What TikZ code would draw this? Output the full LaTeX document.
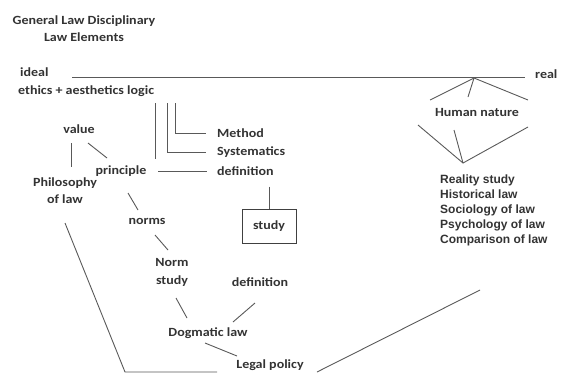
\documentclass[tikz,border=0pt]{standalone}
\usepackage{fontspec}
\setmainfont{Carlito}[FakeStretch=1.12]
\newfontfamily\listfont{Liberation Sans}
\usetikzlibrary{positioning}

\tikzset{
  lbl/.style={inner sep=1pt, text=black!80, font=\fontsize{12.5}{13}\selectfont\bfseries, align=center},
  rlbl/.style={inner sep=1pt, text=black!80, font=\listfont\fontsize{12}{15}\selectfont\bfseries, align=left},
  ln/.style={draw=black!65, line width=0.9pt},
}

\begin{document}
\begin{tikzpicture}[x=1pt,y=-1pt]
  \useasboundingbox (0,0) rectangle (564,376);

  % title
  \node[lbl] (title) at (84,29) {General Law Disciplinary\\[4pt]Law Elements};

  % ideal -- real axis
  \node[lbl, anchor=west] (ideal) at (19,72) {ideal};
  \node[lbl, anchor=west] (real) at (534,74) {real};
  \node[lbl, anchor=west] (ethics) at (17,91) {ethics + aesthetics logic};
  \coordinate (axl) at (72,77);
  \coordinate (axr) at (525,77);
  \draw[ln] (axl) -- (axr);

  % method / systematics / definition brackets
  \node[lbl, anchor=west] (method) at (216,133) {Method};
  \node[lbl, anchor=west] (system) at (216,152) {Systematics};
  \node[lbl, anchor=west] (defn) at (216,171) {definition};
  \coordinate (b1) at (155,103);
  \coordinate (b2) at (167,103);
  \coordinate (b3) at (175,103);
  \draw[ln] (b1) -- (155,159);
  \draw[ln] (b2) |- (206,152);
  \draw[ln] (b3) |- (206,133);

  % left branch
  \node[lbl] (value) at (79,129) {value};
  \node[lbl] (principle) at (121,171) {principle};
  \node[lbl] (philo) at (65,191) {Philosophy\\[4pt]of law};
  \node[lbl] (norms) at (147,221) {norms};
  \node[lbl] (normstudy) at (172,272) {Norm\\[5pt]study};
  \node[lbl] (defn2) at (260,282) {definition};
  \node[lbl] (dogma) at (208,333) {Dogmatic law};
  \node[lbl] (policy) at (270,365) {Legal policy};
  \node[draw=black!75, line width=0.9pt, minimum width=54pt, minimum height=34pt,
        text=black!80, font=\fontsize{12.5}{13}\selectfont\bfseries] (study) at (269,226) {study};

  \draw[ln] (71,143) -- (71,167);
  \draw[ln] (88,143) -- (107,158);
  \draw[ln] (158,171) -- (207,171);
  \draw[ln] (study.north) ++(0,-22) -- (study.north);
  \draw[ln] (128,193) -- (138,210);
  \draw[ln] (155,235) -- (168,250);
  \draw[ln] (176,298) -- (187,318);
  \draw[ln] (255,303) -- (233,322);
  \draw[ln] (205,343) -- (237,356);
  \draw[ln] (65,223) -- (125,372) -- (217,372);
  \draw[ln] (317,372) -- (480,290);

  % right branch
  \node[lbl] (human) at (477,112) {Human nature};
  \coordinate (apex) at (474,78);
  \coordinate (vtip) at (463,163);
  \draw[ln] (430,100) -- (apex) -- (528,100);
  \draw[ln] (apex) -- (468,97);
  \draw[ln] (418,125) -- (vtip) -- (528,127);
  \draw[ln] (454,130) -- (vtip);
  \node[rlbl, anchor=north west] (reality) at (439,174)
    {Reality study\\Historical law\\Sociology of law\\Psychology of law\\Comparison of law};
\end{tikzpicture}
\end{document}
